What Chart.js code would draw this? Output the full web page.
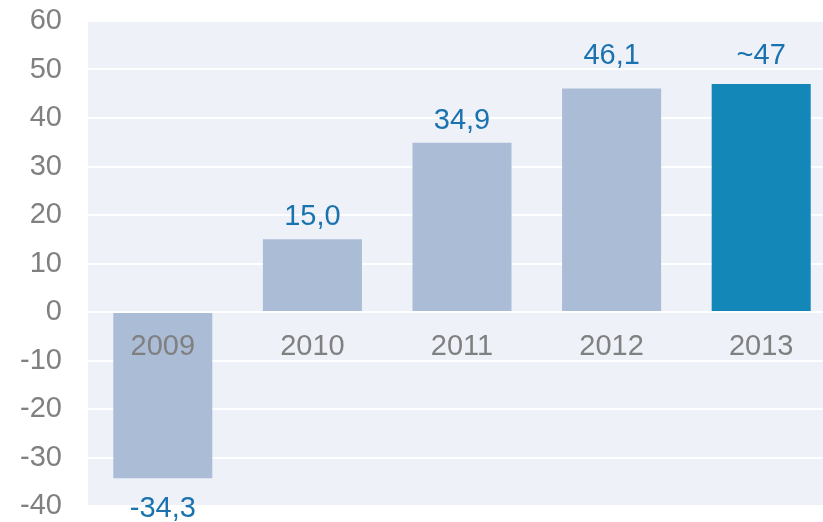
<!DOCTYPE html>
<html lang="de">
<head>
    <meta charset="UTF-8">
    <title>Ergebnis 2009-2013</title>
    <script src="https://cdn.jsdelivr.net/npm/chart.js"></script>
    <style>
        body {
            margin: 0;
            background: #fff;
            overflow: hidden;
        }
        .wrap {
            position: relative;
            width: 836px;
            height: 522px;
        }
    </style>
</head>
<body>
    <div class="wrap">
        <canvas id="resultChart"></canvas>
    </div>
    <script>
        const years = ['2009', '2010', '2011', '2012', '2013'];
        const values = [-34.3, 15.0, 34.9, 46.1, 47];
        const valueLabels = ['-34,3', '15,0', '34,9', '46,1', '~47'];
        const barColors = ['#aabcd6', '#aabcd6', '#aabcd6', '#aabcd6', '#1287b8'];

        const FONT = 'Arial, "Liberation Sans", sans-serif';

        // light panel behind the plot area
        const panelBg = {
            id: 'panelBg',
            beforeDraw(chart) {
                const a = chart.chartArea;
                const ctx = chart.ctx;
                ctx.save();
                ctx.fillStyle = '#eef2f8';
                ctx.fillRect(a.left, a.top, a.right - a.left, a.bottom - a.top);
                ctx.restore();
            }
        };

        // year names sit just under the zero line, values above / below each bar
        const barText = {
            id: 'barText',
            afterDatasetsDraw(chart) {
                const ctx = chart.ctx;
                const x = chart.scales.x;
                const y = chart.scales.y;
                const zero = y.getPixelForValue(0);
                // bars above 40 share one label line near the top of the panel
                const topLine = y.getPixelForValue(51.2);
                ctx.save();
                ctx.textAlign = 'center';

                ctx.font = '29px ' + FONT;
                ctx.fillStyle = '#808080';
                ctx.textBaseline = 'middle';
                years.forEach((yr, i) => {
                    ctx.fillText(yr, x.getPixelForValue(i), zero + 35);
                });

                ctx.fillStyle = '#1a72ae';
                chart.getDatasetMeta(0).data.forEach((bar, i) => {
                    if (values[i] > 40) {
                        ctx.textBaseline = 'alphabetic';
                        ctx.fillText(valueLabels[i], bar.x, topLine);
                    } else if (values[i] >= 0) {
                        ctx.textBaseline = 'alphabetic';
                        ctx.fillText(valueLabels[i], bar.x, bar.y - 14);
                    } else {
                        ctx.textBaseline = 'top';
                        ctx.fillText(valueLabels[i], bar.x, bar.y + 16);
                    }
                });
                ctx.restore();
            }
        };

        new Chart(document.getElementById('resultChart'), {
            type: 'bar',
            data: {
                labels: years,
                datasets: [{
                    data: values,
                    backgroundColor: barColors,
                    borderWidth: 0,
                    categoryPercentage: 1,
                    barPercentage: 0.662
                }]
            },
            options: {
                responsive: true,
                maintainAspectRatio: false,
                animation: false,
                layout: {
                    padding: { top: 21, bottom: 16, left: 0, right: 0 }
                },
                plugins: {
                    legend: { display: false },
                    tooltip: { enabled: false }
                },
                scales: {
                    x: {
                        display: false
                    },
                    y: {
                        min: -40,
                        max: 60,
                        afterFit(scale) {
                            // fixed gutter for the labels; the tick padding
                            // should not push the plot area down
                            scale.width = 88;
                            scale.paddingTop = 0;
                            scale.paddingBottom = 0;
                        },
                        ticks: {
                            stepSize: 10,
                            padding: 26,
                            color: '#808080',
                            font: { family: FONT, size: 29 }
                        },
                        grid: {
                            color: '#ffffff',
                            lineWidth: 2,
                            drawTicks: false
                        },
                        border: { display: false }
                    }
                }
            },
            plugins: [panelBg, barText]
        });
    </script>
</body>
</html>
